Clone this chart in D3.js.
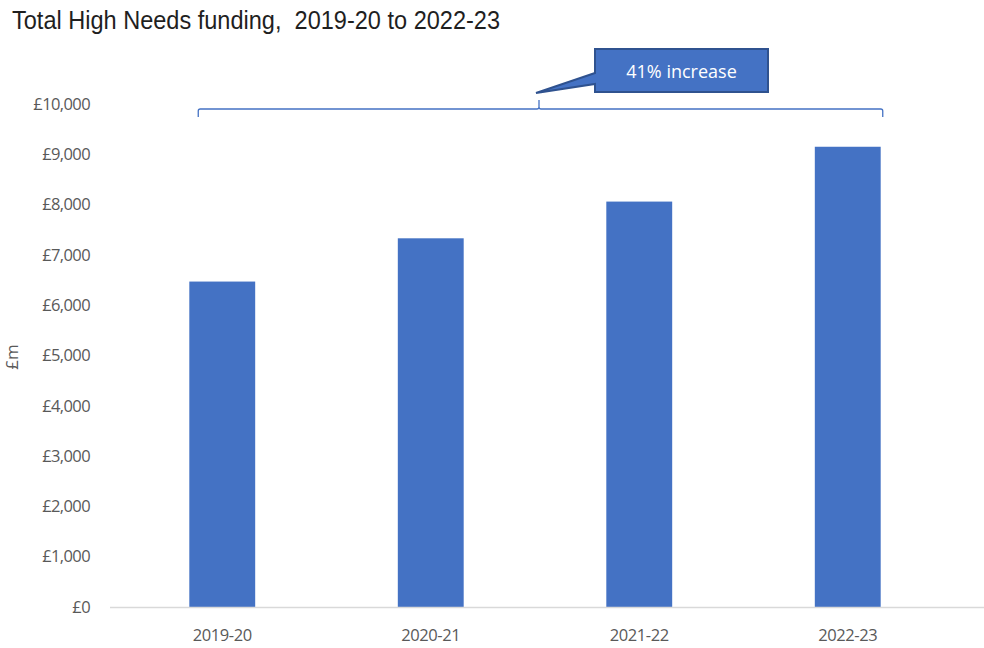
<!DOCTYPE html>
<html>
<head>
<meta charset="utf-8">
<script src="https://cdn.jsdelivr.net/npm/d3@7"></script>
<style>
  html, body { margin: 0; padding: 0; background: #fff; }
  svg { display: block; }
</style>
</head>
<body>
<svg id="chart" width="984" height="648"></svg>
<script>
// Total High Needs funding by year (£m)
const years = ["2019-20", "2020-21", "2021-22", "2022-23"];
const funding = [6470, 7330, 8060, 9150];
const yTicks = [0, 1000, 2000, 3000, 4000, 5000, 6000, 7000, 8000, 9000, 10000];
const titleText = "Total High Needs funding,  2019-20 to 2022-23";
const axisTitle = "£m";
const calloutText = "41% increase";

const svg = d3.select("#chart");
const barColor = "#4472C4";
const labelColor = "#595959";
const labelFont = "'Open Sans', sans-serif";

const y = d3.scaleLinear().domain([0, 10000]).range([607, 104]);
const x = d3.scaleBand().domain(years).range([118, 952]).paddingInner(0.684).paddingOuter(0.342);

// Title
svg.append("text")
  .attr("x", 12).attr("y", 29)
  .attr("font-family", "'Liberation Sans', Arial, sans-serif")
  .attr("font-size", 25)
  .attr("fill", "#1f1f1f")
  .attr("textLength", 488)
  .attr("lengthAdjust", "spacingAndGlyphs")
  .style("white-space", "pre")
  .text(titleText);

// Y axis (labels only, no line)
const yAxis = d3.axisLeft(y)
  .tickValues(yTicks)
  .tickSize(0)
  .tickPadding(0)
  .tickFormat(d => "£" + d3.format(",")(d));
const gy = svg.append("g").attr("transform", "translate(90,0)").call(yAxis);
gy.select(".domain").remove();
gy.selectAll("text")
  .attr("font-family", labelFont)
  .attr("font-size", 16.5)
  .attr("fill", labelColor)
  .attr("letter-spacing", -0.6);

// Y axis title
svg.append("text")
  .attr("transform", "translate(18,357) rotate(-90)")
  .attr("text-anchor", "middle")
  .attr("font-family", labelFont)
  .attr("font-size", 17)
  .attr("fill", labelColor)
  .text(axisTitle);

// Bars
svg.append("g").selectAll("rect")
  .data(years)
  .join("rect")
  .attr("x", d => x(d))
  .attr("width", x.bandwidth())
  .attr("y", (d, i) => y(funding[i]))
  .attr("height", (d, i) => y(0) - y(funding[i]))
  .attr("fill", barColor);

// Category axis baseline
svg.append("line")
  .attr("x1", 110).attr("x2", 984)
  .attr("y1", y(0) + 0.5).attr("y2", y(0) + 0.5)
  .attr("stroke", "#d9d9d9").attr("stroke-width", 1.5);

// X axis labels
const xAxis = d3.axisBottom(x).tickSize(0).tickPadding(0);
const gx = svg.append("g").attr("transform", "translate(0,629)").call(xAxis);
gx.select(".domain").remove();
gx.selectAll("text")
  .attr("font-family", labelFont)
  .attr("font-size", 16.5)
  .attr("fill", labelColor)
  .attr("letter-spacing", -0.4);

// Bracket spanning the four years
const bx0 = x(years[0]) + x.bandwidth() / 2 - 24;
const bx1 = x(years[3]) + x.bandwidth() / 2 + 35;
const bMid = 539;
const bY = 109;
svg.append("path")
  .attr("d", `M${bx0},117 L${bx0},${bY + 2} Q${bx0},${bY} ${bx0 + 2},${bY}
              L${bMid - 2},${bY} Q${bMid},${bY} ${bMid},${bY - 2} L${bMid},100
              M${bMid},${bY - 2} Q${bMid},${bY} ${bMid + 2},${bY}
              L${bx1 - 2},${bY} Q${bx1},${bY} ${bx1},${bY + 2} L${bx1},117`)
  .attr("fill", "none")
  .attr("stroke", barColor)
  .attr("stroke-width", 1.3);

// Callout box with pointer
const cx0 = 595, cx1 = 768, cy0 = 49, cy1 = 92;
svg.append("path")
  .attr("d", `M${cx0},${cy0} L${cx1},${cy0} L${cx1},${cy1} L${cx0},${cy1}
              L${cx0},84 L536,93 L${cx0},73 Z`)
  .attr("fill", barColor)
  .attr("stroke", "#2F528F")
  .attr("stroke-width", 2)
  .attr("stroke-linejoin", "miter");

svg.append("text")
  .attr("x", (cx0 + cx1) / 2)
  .attr("y", 77.5)
  .attr("text-anchor", "middle")
  .attr("font-family", labelFont)
  .attr("font-size", 18)
  .attr("fill", "#ffffff")
  .text(calloutText);
</script>
</body>
</html>
